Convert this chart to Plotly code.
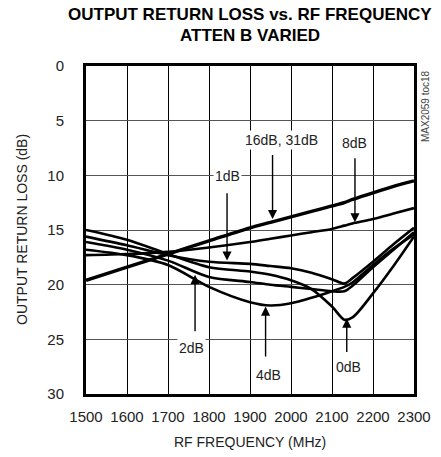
import plotly.graph_objects as go

freq_mhz = [1500, 1600, 1700, 1800, 1900, 1950, 2000, 2050, 2100, 2130, 2150, 2200, 2250, 2300]

rl_0db = [15.0, 15.9, 17.2, 18.4, 18.8, 19.1, 19.6, 20.4, 22.0, 23.2, 23.0, 20.8, 18.3, 15.6]
rl_1db = [15.6, 16.4, 17.3, 17.9, 18.1, 18.3, 18.5, 18.9, 19.5, 19.9, 19.4, 17.9, 16.3, 14.8]
rl_2db = [16.1, 16.8, 17.8, 19.3, 19.75, 20.0, 20.2, 20.4, 20.6, 20.6, 20.1, 18.4, 16.8, 15.2]
rl_4db = [16.8, 17.3, 18.2, 20.2, 21.6, 21.9, 21.7, 21.2, 20.6, 20.2, 19.8, 18.2, 16.7, 15.4]
rl_8db = [17.3, 17.2, 17.0, 16.6, 16.1, 15.8, 15.5, 15.2, 14.9, 14.6, 14.4, 14.0, 13.5, 13.0]
rl_16_31db = [19.6, 18.4, 17.2, 16.0, 14.8, 14.3, 13.8, 13.3, 12.8, 12.5, 12.2, 11.6, 11.0, 10.5]

x_ticks = [1500, 1600, 1700, 1800, 1900, 2000, 2100, 2200, 2300]
y_ticks = [0, 5, 10, 15, 20, 25, 30]

FONT = "Liberation Sans, Arial, sans-serif"

fig = go.Figure()
series = [
    ("0dB", rl_0db, 2.6),
    ("1dB", rl_1db, 2.6),
    ("2dB", rl_2db, 2.6),
    ("4dB", rl_4db, 2.6),
    ("8dB", rl_8db, 2.6),
    ("16dB, 31dB", rl_16_31db, 3.4),
]
for name, vals, w in series:
    fig.add_trace(go.Scatter(x=freq_mhz, y=vals, mode="lines", name=name,
                             line=dict(color="black", width=w, shape="spline", smoothing=0.8),
                             showlegend=False, hoverinfo="skip"))

# labels: (text, text_x, text_y, arrow_x, tail_y, tip_y)
labels = [
    ("16dB, 31dB", 1977, 6.8, 1955, 8.0, 14.0),
    ("8dB", 2154, 7.0, 2156, 8.3, 14.3),
    ("1dB", 1846, 10.1, 1844, 11.5, 17.8),
    ("2dB", 1758, 25.8, 1766, 24.4, 19.1),
    ("4dB", 1946, 28.3, 1938, 26.7, 22.0),
    ("0dB", 2141, 27.5, 2136, 26.3, 23.1),
]
for text, tx, ty, axx, tail, tip in labels:
    fig.add_annotation(x=axx, y=tip, ax=axx, ay=tail, axref="x", ayref="y",
                       xref="x", yref="y", text="", showarrow=True,
                       arrowhead=2, arrowsize=1.3, arrowwidth=1.4, arrowcolor="black")
    fig.add_annotation(x=tx, y=ty, xref="x", yref="y", text=text, showarrow=False,
                       bgcolor="white", font=dict(family=FONT, size=14, color="#222"),
                       borderpad=1)

W, H, L, R, T, B = 441, 457, 86, 27, 66, 63
pw, ph = W - L - R, H - T - B


def px(xp):
    return (xp - L) / pw


def py(yp):
    return (H - B - yp) / ph


fig.add_annotation(x=px(425), y=py(68), xref="paper", yref="paper", text="MAX2059 toc18",
                   showarrow=False, textangle=-90, xanchor="center", yanchor="top",
                   font=dict(family=FONT, size=10, color="#444"))
fig.add_annotation(x=px(250), y=py(14), xref="paper", yref="paper",
                   text="<b>OUTPUT RETURN LOSS vs. RF FREQUENCY</b>", showarrow=False,
                   xanchor="center", yanchor="middle",
                   font=dict(family=FONT, size=17, color="black"))
fig.add_annotation(x=px(250), y=py(36), xref="paper", yref="paper",
                   text="<b>ATTEN B VARIED</b>", showarrow=False,
                   xanchor="center", yanchor="middle",
                   font=dict(family=FONT, size=17, color="black"))
fig.add_annotation(x=px(22), y=py(230), xref="paper", yref="paper",
                   text="OUTPUT RETURN LOSS (dB)", showarrow=False, textangle=-90,
                   xanchor="center", yanchor="middle",
                   font=dict(family=FONT, size=14, color="#222"))
fig.add_annotation(x=px(250), y=py(442), xref="paper", yref="paper",
                   text="RF FREQUENCY (MHz)", showarrow=False,
                   xanchor="center", yanchor="middle",
                   font=dict(family=FONT, size=14, color="#222"))

fig.update_layout(
    width=W, height=H,
    margin=dict(l=L, r=R, t=T, b=B),
    paper_bgcolor="white", plot_bgcolor="white",
    font=dict(family=FONT, size=15, color="#222"),
)
fig.update_xaxes(range=[1500, 2300], tickvals=x_ticks, ticktext=[str(v) for v in x_ticks],
                 showgrid=True, gridcolor="black", gridwidth=1,
                 showline=True, linecolor="black", linewidth=3, mirror=True,
                 ticks="outside", ticklen=7, tickcolor="rgba(0,0,0,0)",
                 automargin=False, zeroline=False)
fig.update_yaxes(range=[30, 0], tickvals=y_ticks, ticktext=[str(v) for v in y_ticks],
                 showgrid=True, gridcolor="#555", gridwidth=1,
                 showline=True, linecolor="black", linewidth=3, mirror=True,
                 ticks="outside", ticklen=16, tickcolor="rgba(0,0,0,0)",
                 automargin=False, zeroline=False)

fig.write_html("out.html", config={"displayModeBar": False},
               post_script="document.body.style.margin='0';document.body.style.overflow='hidden';")
